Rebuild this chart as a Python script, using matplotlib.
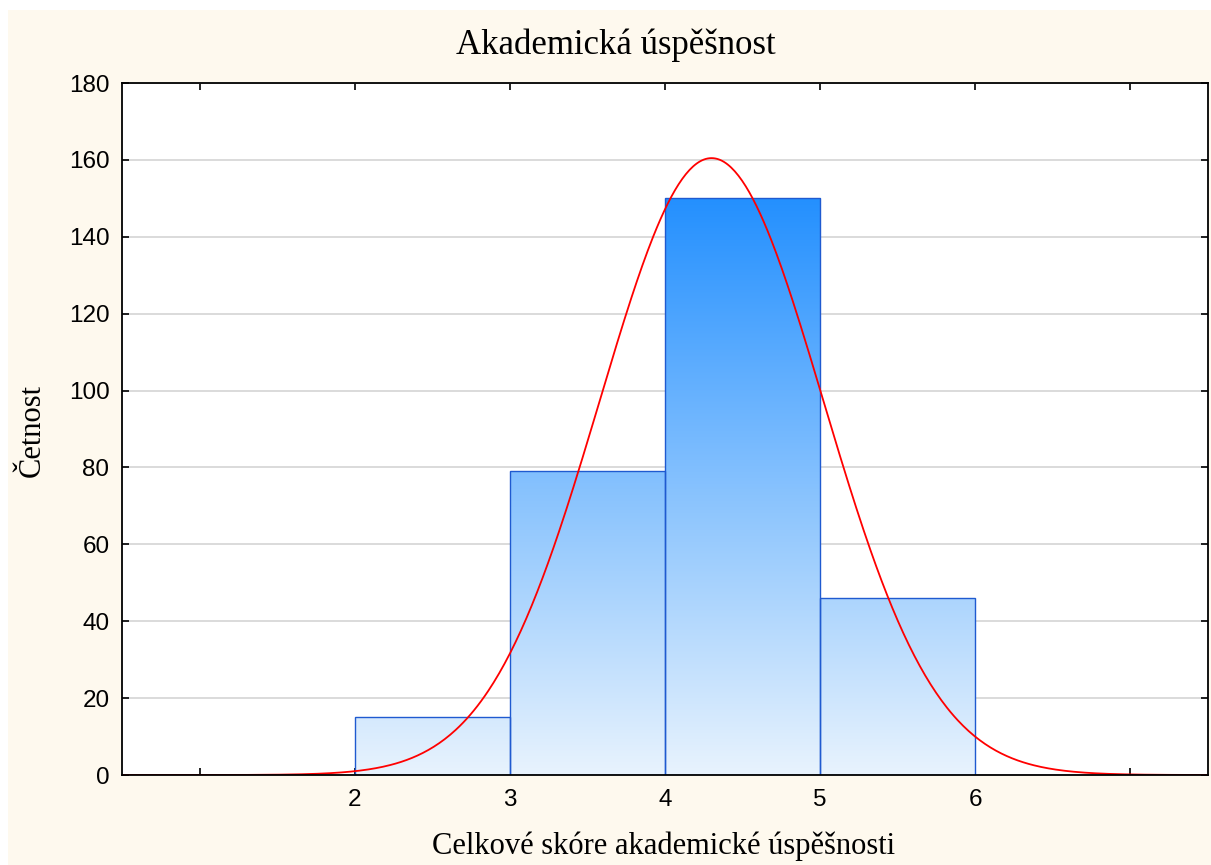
import numpy as np
import matplotlib
matplotlib.use("Agg")
import matplotlib.pyplot as plt
from matplotlib.colors import LinearSegmentedColormap
from matplotlib.patches import Rectangle

# Data
bin_edges = [2, 3, 4, 5, 6]
counts = [15, 79, 150, 46]
fit_mean = 4.30
fit_sd = 0.721
n_total = sum(counts)
tick_labels = ["2", "3", "4", "5", "6"]

title = "Akademická úspěšnost"
xlabel = "Celkové skóre akademické úspěšnosti"
ylabel = "Četnost"

W, H = 1211, 865
fig = plt.figure(figsize=(W/100, H/100), dpi=100)
fig.patch.set_facecolor("white")
bg = Rectangle((8/W, 0), 1 - 8/W, 1 - 10/H, transform=fig.transFigure,
               facecolor="#fef9ee", edgecolor="none", zorder=-10)
fig.patches.append(bg)
ax = fig.add_axes([122/W, 1-775/H, (1208-122)/W, (775-83)/H])
ax.set_zorder(1)
ax.set_facecolor("white")

# gridlines
ax.set_yticks(np.arange(0, 181, 20))
ax.yaxis.grid(True, color="#d4d4d4", linewidth=1.2)
ax.set_axisbelow(True)

# gradient bars
cmap = LinearSegmentedColormap.from_list("g", ["#e8f3fd", "#2490ff"])
grad = np.linspace(0, 1, 256).reshape(-1, 1)
widths = np.diff(bin_edges)
bars = ax.bar(bin_edges[:-1], counts, width=widths, align="edge",
              facecolor="none", edgecolor="#1f5ad0", linewidth=1.0, zorder=3)
for b in bars:
    im = ax.imshow(grad, cmap=cmap, origin="lower", aspect="auto",
                   extent=(0.5, 7.5, 0, max(counts)), zorder=2,
                   interpolation="bilinear")
    im.set_clip_path(b)
ax.set_xlim(0.5, 7.5)
ax.set_ylim(0, 180)

# fitted normal curve
xs = np.linspace(0.5, 7.5, 600)
ys = n_total * 1.0 / (fit_sd * np.sqrt(2*np.pi)) * np.exp(-0.5*((xs-fit_mean)/fit_sd)**2)
ax.plot(xs, ys, color="#ff0000", linewidth=1.3, zorder=4)

# ticks
ax.set_xticks(range(1, 8))
ax.set_xticklabels([""] + tick_labels + [""])
ax.tick_params(axis="both", direction="in", length=5, width=1.2,
               top=True, right=True, labelsize=17.5)
ax.tick_params(axis="x", pad=10)
ax.tick_params(axis="y", pad=9)
for lab in ax.get_xticklabels() + ax.get_yticklabels():
    lab.set_family("Liberation Sans")
for s in ax.spines.values():
    s.set_linewidth(1.3)
    s.set_color("#000000")
    s.set_zorder(5)

fig.text(616/W, 1-45/H, title, family="Liberation Serif", fontsize=25,
         ha="center", va="center", zorder=2)
fig.text(664/W, 1-846/H, xlabel, family="Liberation Serif", fontsize=22,
         ha="center", va="center", zorder=2)
fig.text(32/W, 1-431/H, ylabel, family="Liberation Serif", fontsize=22,
         ha="center", va="center", rotation=90, zorder=2)

fig.savefig("out.png", dpi=100, facecolor=fig.get_facecolor())
